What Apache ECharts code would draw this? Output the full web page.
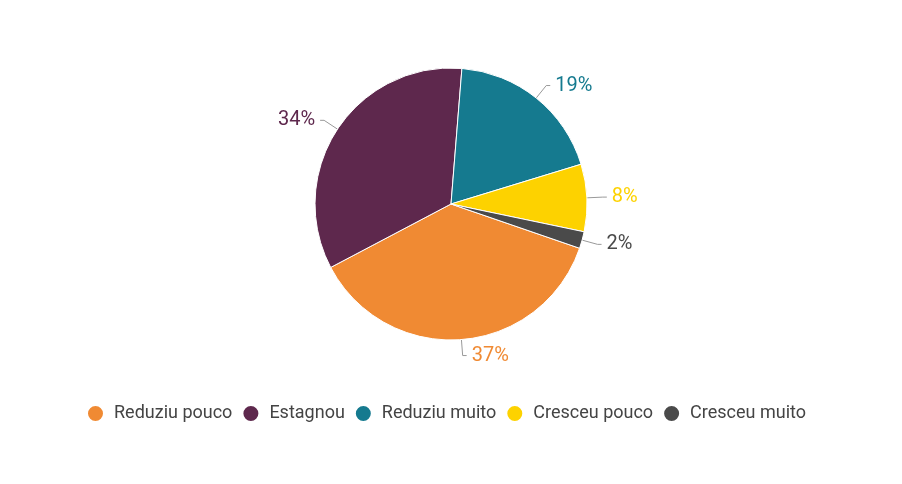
<!DOCTYPE html>
<html>
<head>
<meta charset="utf-8">
<script src="https://cdn.jsdelivr.net/npm/echarts@6/dist/echarts.min.js"></script>
<style>
html,body{margin:0;padding:0;background:#fff;}
#main{width:902px;height:484px;}
</style>
</head>
<body>
<div id="main"></div>
<script>
var categories = ['Reduziu pouco', 'Estagnou', 'Reduziu muito', 'Cresceu pouco', 'Cresceu muito'];
var values = [37, 34, 19, 8, 2];
var colors = ['#F08A33', '#5E284D', '#157A8F', '#FDD200', '#4A4A4A'];

var myChart = echarts.init(document.getElementById('main'));
var pieData = [];
for (var i = 0; i < categories.length; i++) {
	pieData.push({
		name: categories[i],
		value: values[i],
		itemStyle: {color: colors[i]},
		label: {color: colors[i]}
	});
}
myChart.setOption({
	animation: false,
	textStyle: {fontFamily: 'Roboto'},
	legend: {
		top: 399,
		left: 81,
		icon: 'circle',
		itemWidth: 17,
		itemHeight: 17,
		itemGap: 9,
		textStyle: {fontSize: 18, color: '#444', fontFamily: 'Roboto', padding: [0, 0, 0, 5]},
		data: categories
	},
	series: [{
		type: 'pie',
		center: [451, 204],
		radius: 136,
		startAngle: -19,
		clockwise: true,
		itemStyle: {borderColor: '#fff', borderWidth: 1},
		label: {
			show: true,
			formatter: '{d}%',
			fontSize: 20,
			fontFamily: 'Roboto'
		},
		labelLine: {
			show: true,
			length: 16,
			length2: 4,
			lineStyle: {color: '#999', width: 1}
		},
		data: pieData
	}]
});
</script>
</body>
</html>
